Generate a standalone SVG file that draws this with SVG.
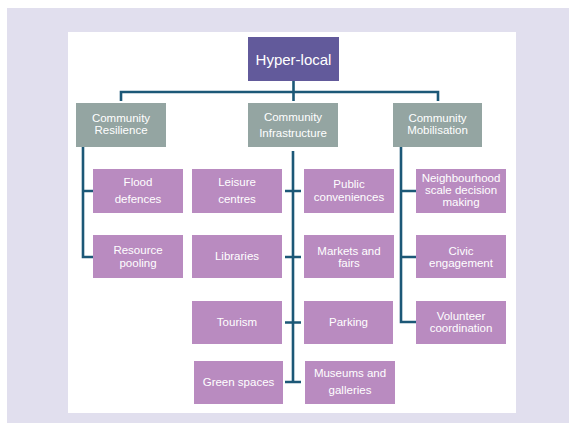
<svg xmlns="http://www.w3.org/2000/svg" width="569" height="423" viewBox="0 0 569 423">
  <style>
    .bg { fill: #e1dfee; }
    .panel { fill: #ffffff; }
    .root rect { fill: #625a9b; }
    .cat rect { fill: #94a5a2; }
    .leaf rect { fill: #b98bc0; }
    text { font-family: "Liberation Sans", Arial, sans-serif; fill: #ffffff; text-anchor: middle; font-size: 11.5px; }
    .root text { font-size: 15px; }
    .links path { fill: none; stroke: #1c5877; stroke-width: 2.6; }
  </style>

  <rect class="bg" x="7" y="8" width="562" height="415"/>
  <rect class="panel" x="68" y="32" width="448" height="381"/>

  <!-- connectors -->
  <g class="links">
    <path d="M293.5 81 V101"/>
    <path d="M121 101 V92 H438 V101"/>
    <path d="M83 147 V257 H93 M83 191 H93"/>
    <path d="M293 151 V382 M285 191 H301 M285 257 H301 M285 322.5 H301 M285 382 H301"/>
    <path d="M401 147 V322 H416 M401 191 H416 M401 257 H416"/>
  </g>

  <!-- top -->
  <g id="hyper-local" class="root">
    <rect x="248" y="37" width="91" height="44"/>
    <text x="293.5" y="64.5">Hyper-local</text>
  </g>

  <!-- categories -->
  <g id="community-resilience" class="cat">
    <rect x="76" y="103" width="90" height="44"/>
    <text x="121" y="122">Community</text>
    <text x="121" y="134">Resilience</text>
  </g>
  <g id="community-infrastructure" class="cat">
    <rect x="248" y="103" width="90" height="44"/>
    <text x="293" y="121">Community</text>
    <text x="293" y="137">Infrastructure</text>
  </g>
  <g id="community-mobilisation" class="cat">
    <rect x="393" y="103" width="89" height="44"/>
    <text x="437.5" y="122">Community</text>
    <text x="437.5" y="134">Mobilisation</text>
  </g>

  <!-- resilience items -->
  <g id="flood-defences" class="leaf">
    <rect x="93" y="169" width="90" height="44"/>
    <text x="138" y="186">Flood</text>
    <text x="138" y="203">defences</text>
  </g>
  <g id="resource-pooling" class="leaf">
    <rect x="93" y="235" width="90" height="43"/>
    <text x="138" y="254">Resource</text>
    <text x="138" y="267">pooling</text>
  </g>

  <!-- infrastructure items, left column -->
  <g id="leisure-centres" class="leaf">
    <rect x="192" y="169" width="90" height="44"/>
    <text x="237" y="186">Leisure</text>
    <text x="237" y="203">centres</text>
  </g>
  <g id="libraries" class="leaf">
    <rect x="192" y="235" width="90" height="43"/>
    <text x="237" y="260">Libraries</text>
  </g>
  <g id="tourism" class="leaf">
    <rect x="192" y="301" width="90" height="43"/>
    <text x="237" y="326">Tourism</text>
  </g>
  <g id="green-spaces" class="leaf">
    <rect x="194" y="361" width="89" height="43"/>
    <text x="238.5" y="386">Green spaces</text>
  </g>

  <!-- infrastructure items, right column -->
  <g id="public-conveniences" class="leaf">
    <rect x="304" y="169" width="90" height="44"/>
    <text x="349" y="188">Public</text>
    <text x="349" y="201">conveniences</text>
  </g>
  <g id="markets-and-fairs" class="leaf">
    <rect x="304" y="235" width="90" height="43"/>
    <text x="349" y="255">Markets and</text>
    <text x="349" y="267">fairs</text>
  </g>
  <g id="parking" class="leaf">
    <rect x="304" y="301" width="89" height="43"/>
    <text x="348.5" y="326">Parking</text>
  </g>
  <g id="museums-and-galleries" class="leaf">
    <rect x="305" y="361" width="90" height="43"/>
    <text x="350" y="377">Museums and</text>
    <text x="350" y="394">galleries</text>
  </g>

  <!-- mobilisation items -->
  <g id="neighbourhood-decision-making" class="leaf">
    <rect x="416" y="169" width="90" height="44"/>
    <text x="461" y="182">Neighbourhood</text>
    <text x="461" y="194">scale decision</text>
    <text x="461" y="206">making</text>
  </g>
  <g id="civic-engagement" class="leaf">
    <rect x="416" y="235" width="90" height="43"/>
    <text x="461" y="255">Civic</text>
    <text x="461" y="267">engagement</text>
  </g>
  <g id="volunteer-coordination" class="leaf">
    <rect x="416" y="301" width="90" height="43"/>
    <text x="461" y="320">Volunteer</text>
    <text x="461" y="332">coordination</text>
  </g>
</svg>
